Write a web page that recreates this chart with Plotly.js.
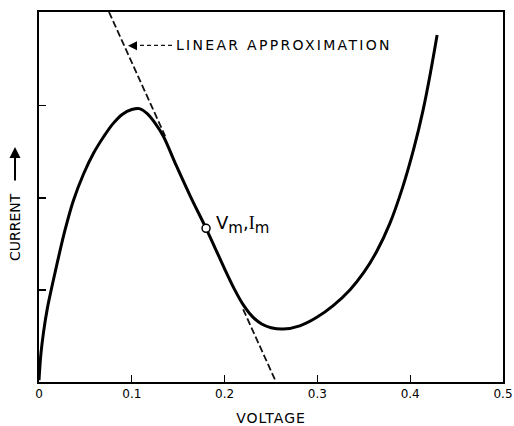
<!DOCTYPE html>
<html>
<head>
<meta charset="utf-8">
<script src="https://cdn.plot.ly/plotly-3.0.1.min.js"></script>
<style>
html,body{margin:0;padding:0;background:#fff;}
#chart{width:514px;height:426px;}
g.annotation[data-index="0"] text{letter-spacing:2.3px;}
.xtitle{letter-spacing:1px;}
</style>
</head>
<body>
<div id="chart"></div>
<script>
// Measured I-V characteristic (current in arbitrary units)
const voltage = [0, 0.002, 0.005, 0.009, 0.014, 0.020, 0.028, 0.037, 0.048, 0.059, 0.070, 0.080, 0.090, 0.100, 0.108, 0.116, 0.126, 0.134, 0.148, 0.163, 0.180, 0.190, 0.200, 0.210, 0.220, 0.230, 0.240, 0.250, 0.263, 0.281, 0.299, 0.317, 0.335, 0.350, 0.364, 0.378, 0.392, 0.404, 0.414, 0.422, 0.429];
const current = [0.02, 0.30, 0.55, 0.80, 1.04, 1.31, 1.65, 1.97, 2.26, 2.49, 2.67, 2.81, 2.91, 2.96, 2.97, 2.92, 2.80, 2.67, 2.35, 2.02, 1.67, 1.45, 1.23, 1.02, 0.84, 0.71, 0.63, 0.59, 0.575, 0.61, 0.70, 0.83, 1.00, 1.19, 1.42, 1.72, 2.12, 2.54, 2.96, 3.37, 3.77];
// Linear approximation (tangent at Vm, Im), drawn in two pieces
const approxV = [0.0754, 0.136, null, 0.220, 0.2554];
const approxI = [4.02, 2.67, null, 0.79, 0];
// Operating point
const pointV = [0.180];
const pointI = [1.67];
// Axis ticks
const xTickVals = [0, 0.1, 0.2, 0.3, 0.4, 0.5];
const xTickText = ['0', '0.1', '0.2', '0.3', '0.4', '0.5'];
const yTickVals = [1, 2, 3];

const FONT = '"DejaVu Sans", "Liberation Sans", Arial, sans-serif';

const traces = [
  {x: approxV, y: approxI, mode: 'lines', line: {color: '#111', width: 1.8, dash: '7px,3px'}, hoverinfo: 'skip'},
  {x: voltage, y: current, mode: 'lines', line: {color: '#000', width: 3, shape: 'spline', smoothing: 1}, hoverinfo: 'skip'},
  {x: pointV, y: pointI, mode: 'markers', marker: {size: 8, color: '#fff', line: {color: '#000', width: 1.5}}, hoverinfo: 'skip'}
];

const layout = {
  width: 514, height: 426,
  margin: {l: 39, r: 11, t: 12, b: 44},
  paper_bgcolor: '#fff', plot_bgcolor: '#fff',
  showlegend: false,
  font: {family: FONT, color: '#000', size: 12},
  xaxis: {
    range: [0, 0.5], showgrid: false, zeroline: false,
    showline: true, mirror: true, linecolor: '#000', linewidth: 2,
    ticks: 'inside', ticklen: 7, tickwidth: 1.2, tickcolor: '#000',
    tickvals: xTickVals, ticktext: xTickText,
    tickfont: {family: FONT, size: 12},
    title: {text: 'VOLTAGE', font: {family: FONT, size: 14}, standoff: 18}
  },
  yaxis: {
    range: [0, 4.02], showgrid: false, zeroline: false,
    showline: true, mirror: true, linecolor: '#000', linewidth: 2,
    ticks: 'inside', ticklen: 7, tickwidth: 1.2, tickcolor: '#000',
    tickvals: yTickVals, showticklabels: false
  },
  shapes: [
    {type: 'line', xref: 'x', yref: 'y', x0: 0.1013, y0: 3.658, x1: 0.1433, y1: 3.658,
     line: {color: '#111', width: 1.3, dash: '4px,3px'}}
  ],
  annotations: [
    {x: 0.264, y: 3.658, xref: 'x', yref: 'y', xanchor: 'center', yanchor: 'middle',
     text: 'LINEAR APPROXIMATION', showarrow: false, font: {family: FONT, size: 14}},
    {x: 0.0959, y: 3.652, xref: 'x', yref: 'y', text: '', showarrow: true,
     ax: 9, ay: 0, arrowhead: 2, arrowsize: 1.2, arrowwidth: 1.5, arrowcolor: '#000'},
    {x: 0.1887, y: 1.707, xref: 'x', yref: 'y', xanchor: 'left', yanchor: 'middle',
     text: 'V<sub><span style="font-size:15px">m</span></sub>,<span style="font-family:Liberation Serif">I</span><sub><span style="font-size:15px">m</span></sub>',
     showarrow: false, font: {family: FONT, size: 18}},
    {x: -0.0517, y: 0.419, xref: 'paper', yref: 'paper', xanchor: 'center', yanchor: 'middle',
     text: 'CURRENT', textangle: -90, font: {family: FONT, size: 14}, showarrow: false},
    {x: -0.0517, y: 0.635, xref: 'paper', yref: 'paper', text: '', showarrow: true,
     axref: 'paper', ayref: 'paper', ax: -0.0517, ay: 0.5405,
     arrowhead: 2, arrowsize: 1.1, arrowwidth: 2, arrowcolor: '#000'}
  ]
};

Plotly.newPlot('chart', traces, layout, {staticPlot: true, displayModeBar: false});
</script>
</body>
</html>
